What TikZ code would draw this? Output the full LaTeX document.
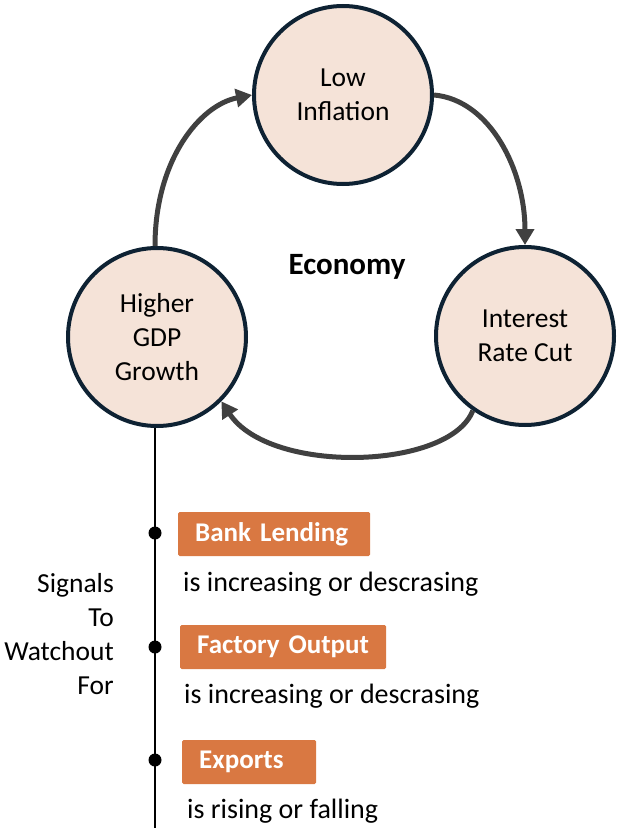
\documentclass[tikz,border=0pt]{standalone}
\usepackage{fontspec}
\setmainfont{Carlito}
\usetikzlibrary{arrows.meta}
\definecolor{circfill}{HTML}{F5E3D8}
\definecolor{circline}{HTML}{0E2233}
\definecolor{arrowgray}{HTML}{404040}
\definecolor{boxorange}{HTML}{D97842}
\begin{document}
\begin{tikzpicture}[x=1pt,y=-1pt,
  circ/.style={circle,draw=circline,line width=4pt,fill=circfill,minimum size=178pt,inner sep=0pt,align=center,font=\fontsize{27.5}{34}\selectfont},
  cyc/.style={draw=arrowgray,line width=5pt,-{Triangle[length=16pt,width=18pt]}},
  sigbox/.style={fill=boxorange,rounded corners=1.5pt,anchor=west,minimum height=44pt,text=white,font=\bfseries\fontsize{27}{30}\selectfont,inner xsep=17pt,align=left},
  sigtext/.style={anchor=west,font=\fontsize{28}{30}\selectfont,inner sep=0pt},
  dot/.style={circle,fill=black,minimum size=13pt,inner sep=0pt}]
\useasboundingbox (0,0) rectangle (624,832);
\node[circ] (low) at (343,95) {Low\\Inflation};
\node[circ] (gdp) at (157,337) {Higher\\GDP\\Growth};
\node[circ] (rate) at (525,336) {Interest\\Rate Cut};
\node[font=\bfseries\fontsize{31}{34}\selectfont] (eco) at (347,267) {Economy};
\draw[cyc] (gdp.north) ++(-2,0) coordinate (g1) .. controls (155,160) and (200,105) .. (low.west);
\draw[cyc] (low.east) .. controls (490,100) and (525,170) .. (rate.north);
\draw[cyc] (rate.-125) .. controls (450,470) and (270,475) .. (gdp.-45);
\coordinate (lineend) at (155,828);
\draw[line width=2.5pt] (gdp.south -| lineend) -- (lineend);
\node[dot] (d1) at (155,533) {};
\node[dot] (d2) at (155,647) {};
\node[dot] (d3) at (155,760) {};
\node[sigbox,text width=158pt] (b1) at (178,534) {\mbox{Bank Lending}};
\node[sigbox,text width=172pt] (b2) at (180,647) {\mbox{Factory Output}};
\node[sigbox,text width=100pt] (b3) at (182,762) {\mbox{Exports}};
\node[sigtext] (t1) at (183,584) {is increasing or descrasing};
\node[sigtext] (t2) at (184,696) {is increasing or descrasing};
\node[sigtext] (t3) at (187,811) {is rising or falling};
\node[align=right,anchor=east,font=\fontsize{27.5}{34}\selectfont,inner sep=0pt] (sig) at (114,634) {Signals\\To\\Watchout\\For};
\end{tikzpicture}
\end{document}
